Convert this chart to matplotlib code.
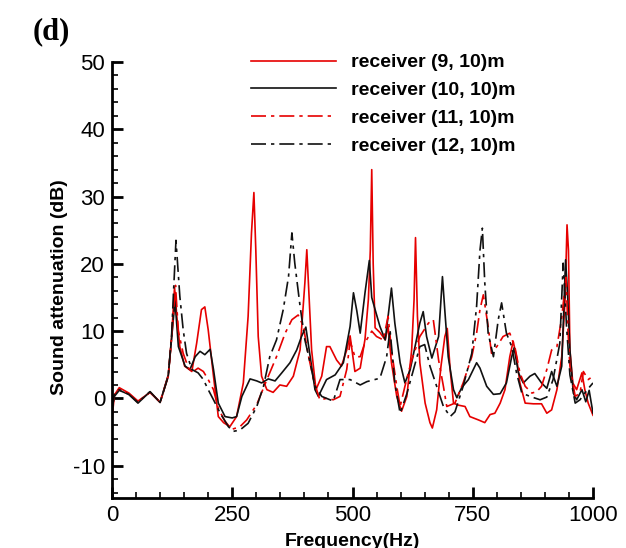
import numpy as np
import matplotlib
matplotlib.use("Agg")
import matplotlib.pyplot as plt
from matplotlib.ticker import MultipleLocator

plt.rcParams['font.family'] = ['Liberation Sans', 'DejaVu Sans']
plt.rcParams['axes.unicode_minus'] = False

# frequency (Hz) / attenuation (dB)
freq_9 = [0, 5, 15, 35, 54, 79, 100, 117, 124, 130, 135, 141, 151, 166, 176, 186, 193, 200, 211, 221,
          232, 245, 259, 273, 283, 290, 295, 299, 304, 311, 322, 335, 349, 363, 377, 391, 401, 405, 410,
          415, 424, 436, 446, 453, 467, 477, 488, 495, 505, 516, 526, 533, 537, 540, 543, 547, 557, 568,
          574, 581, 592, 602, 613, 623, 628, 631, 635, 640, 651, 661, 666, 675, 684, 692, 697, 703, 710,
          720, 734, 744, 762, 775, 786, 796, 807, 817, 827, 834, 841, 848, 859, 876, 893, 904, 914, 925,
          935, 942, 946, 949, 952, 958, 966, 977, 983, 990, 1000]
att_9 = [-3.0, 0.5, 1.6, 0.8, -0.4, 0.9, -0.6, 3.3, 9.2, 16.5, 12, 7.7, 4.8, 4.0, 8.2, 13.2, 13.6, 10.2,
         3.3, -2.7, -3.6, -4.2, -2.7, 2.3, 12.2, 24.6, 30.6, 22, 9.2, 3.3, 1.3, 0.9, 2.0, 1.8, 3.3, 7.2,
         17.2, 22.1, 14.7, 7.2, 1.3, 3.3, 7.7, 7.7, 5.7, 4.8, 7.2, 9.3, 4.0, 4.5, 8.8, 14.7, 22, 34, 20,
         10.5, 9.8, 8.7, 10.7, 5.3, 0.3, -1.9, 0.3, 7.2, 14.7, 23.9, 12.2, 5.3, -0.7, -3.6, -4.4, -1.7,
         4.8, 9.2, 10.4, 4.3, -0.7, -1.0, -1.2, -2.7, -3.2, -3.6, -2.4, -2.2, -0.7, 1.3, 6.2, 8.5, 6.2,
         2.3, -0.7, -0.8, -0.8, -2.2, -1.7, 1.3, 6.2, 14.7, 25.8, 22, 7.2, 2.3, 1.3, 3.8, 1.3, -0.7, -2.5]

freq_10 = [0, 5, 15, 35, 54, 79, 100, 117, 124, 131, 138, 152, 162, 173, 183, 193, 204, 211, 221, 235,
           250, 259, 270, 287, 301, 311, 325, 339, 353, 370, 384, 394, 403, 412, 422, 429, 446, 464, 481,
           495, 502, 509, 516, 526, 535, 540, 547, 557, 568, 574, 581, 588, 599, 609, 620, 630, 640, 647,
           654, 665, 679, 687, 692, 699, 710, 717, 727, 741, 758, 765, 779, 793, 807, 820, 831, 836, 845,
           855, 869, 879, 893, 904, 914, 925, 935, 940, 943, 947, 952, 959, 966, 977, 985, 992, 1000]
att_10 = [-1.5, 0.3, 1.2, 0.6, -0.7, 1.0, -0.6, 3.5, 9, 14.5, 7.7, 4.8, 4.3, 6.2, 7.0, 6.5, 7.3, 4.3,
          -0.7, -2.7, -2.9, -2.7, 0.3, 2.9, 2.6, 2.3, 2.9, 2.6, 3.8, 5.3, 7.2, 9.2, 10.6, 6.2, 1.3, 0.3,
          2.8, 3.5, 5.3, 10.7, 15.7, 13, 9.7, 15.7, 20.5, 15, 13.2, 10.7, 8.7, 12.2, 16.4, 11.2, 5.3, 2.3,
          4.3, 7.7, 11.2, 12.9, 9.2, 6.0, 9.2, 18.1, 13, 6.2, 1.3, 0.1, 1.6, 2.8, 5.3, 4.5, 1.8, 0.6, 0.7,
          2.3, 6.2, 7.5, 3.8, 2.3, 3.3, 3.7, 2.3, 1.5, 4.0, 1.8, 4.8, 14.7, 20.6, 15.7, 7.2, 0.8, -0.2,
          1.3, -0.5, 1.2, -2.2]

freq_11 = [0, 5, 15, 35, 54, 79, 100, 117, 124, 132, 138, 148, 159, 169, 179, 190, 200, 211, 221, 235,
           249, 266, 280, 301, 322, 342, 360, 374, 387, 398, 407, 419, 432, 446, 460, 474, 488, 495, 505,
           516, 526, 540, 550, 564, 574, 581, 592, 599, 609, 623, 640, 658, 668, 679, 689, 696, 713, 730,
           748, 758, 765, 772, 782, 789, 800, 813, 827, 838, 848, 859, 873, 883, 893, 904, 914, 925, 935,
           944, 948, 952, 963, 973, 980, 990, 1000]
att_11 = [-1.5, 0.6, 1.4, 0.7, -0.5, 0.9, -0.5, 3.4, 9.0, 16.8, 10, 6.7, 4.5, 4.0, 4.5, 4.0, 2.8, 1.3,
          -1.5, -3.4, -4.6, -4.2, -3.2, -0.9, 2.8, 6.2, 9.7, 11.7, 12.4, 10.7, 6.8, 2.8, -0.2, 0, -0.2, 0.3,
          4.3, 8.5, 6.2, 6.2, 8.3, 10.0, 9.2, 8.7, 12.2, 7.2, 1.8, -1.2, 1.8, 5.7, 9.2, 11.2, 11.7, 5.7,
          1.8, -1.2, -0.7, 2.3, 6.2, 9.7, 13.2, 15.4, 10.7, 6.7, 7.7, 9.2, 9.7, 7.5, 3.8, 1.8, 0.8, 1.0,
          1.8, 4.3, 7.2, 7.7, 12, 18, 10, 4.8, 0.3, 0.8, 4.0, 2.8, 3.3]

freq_12 = [0, 5, 15, 35, 54, 79, 100, 117, 124, 128, 133, 141, 148, 155, 166, 179, 190, 200, 211, 225,
           242, 252, 266, 283, 301, 315, 328, 342, 356, 367, 374, 380, 391, 401, 412, 422, 436, 460, 474,
           495, 516, 530, 557, 571, 578, 588, 599, 613, 623, 640, 650, 661, 675, 689, 703, 713, 730, 748,
           758, 765, 770, 775, 782, 793, 803, 810, 820, 831, 841, 852, 869, 890, 904, 917, 931, 938, 945,
           952, 963, 973, 983, 994, 1000]
att_12 = [-1.5, 0.5, 1.3, 0.6, -0.6, 1.0, -0.6, 3.3, 9.5, 16, 23.5, 15.2, 10.2, 6.7, 4.3, 3.8, 2.8, 1.3,
          -0.2, -2.2, -4.2, -4.9, -4.7, -3.7, -1.2, 1.8, 6.2, 8.7, 13.2, 18.1, 24.6, 20.1, 13.7, 8.7, 5.3,
          1.8, 0.3, -0.4, 2.8, 2.8, 2.0, 2.5, 3.0, 6.2, 10.2, 2.3, -2.2, 0.7, 3.3, 7.7, 8, 4.8, 1.8, -1.2,
          -2.7, -2.0, 1.8, 6.7, 13.7, 22, 25.3, 17.2, 9.7, 6.2, 11.7, 14.2, 9.7, 7.7, 3.8, 0.8, 0.3, -0.2,
          0.2, 2.8, 8.2, 20.1, 10.7, 3.5, -0.7, -0.2, 0.8, 1.8, 2.3]

labels = ['receiver (9, 10)m', 'receiver (10, 10)m', 'receiver (11, 10)m', 'receiver (12, 10)m']

RED = '#e60000'
BLACK = '#111111'
dashdot = (0, (9, 3, 2, 3))

fig = plt.figure(figsize=(6.26, 5.48), dpi=100)
ax = fig.add_axes([112 / 626, 1 - 498 / 548, 481 / 626, 436 / 548])

ax.plot(freq_9, att_9, color=RED, lw=1.2, label=labels[0])
ax.plot(freq_10, att_10, color=BLACK, lw=1.2, label=labels[1])
ax.plot(freq_11, att_11, color=RED, lw=1.2, linestyle=dashdot, label=labels[2])
ax.plot(freq_12, att_12, color=BLACK, lw=1.2, linestyle=dashdot, label=labels[3])

ax.set_xlim(0, 1000)
ax.set_ylim(-14.8, 50)
ax.xaxis.set_major_locator(MultipleLocator(250))
ax.xaxis.set_minor_locator(MultipleLocator(50))
ax.yaxis.set_major_locator(MultipleLocator(10))
ax.yaxis.set_minor_locator(MultipleLocator(2))

for side in ['top', 'right']:
    ax.spines[side].set_visible(False)
for side in ['left', 'bottom']:
    ax.spines[side].set_linewidth(2)
ax.tick_params(which='major', direction='in', length=8, width=2, labelsize=16, pad=5)
ax.tick_params(which='minor', direction='in', length=4, width=1.2)

ax.legend(loc='upper left', bbox_to_anchor=(241 / 626, 1 - 44 / 548),
          bbox_transform=fig.transFigure, frameon=False, borderpad=0,
          handlelength=4.4, handletextpad=0.75, labelspacing=0.52,
          prop={'size': 14, 'weight': 'bold'})

fig.text(60 / 626, 1 - 287 / 548, 'Sound attenuation (dB)', rotation=90,
         ha='center', va='center', fontsize=14, fontweight='bold')
fig.text(352 / 626, 1 - 533 / 548, 'Frequency(Hz)', ha='center', va='top',
         fontsize=14, fontweight='bold')
fig.text(33 / 626, 1 - 32 / 548, '(d)', ha='left', va='center', fontsize=22,
         fontweight='bold', family=['Liberation Serif', 'DejaVu Serif'])

fig.savefig('out.png', dpi=100)
